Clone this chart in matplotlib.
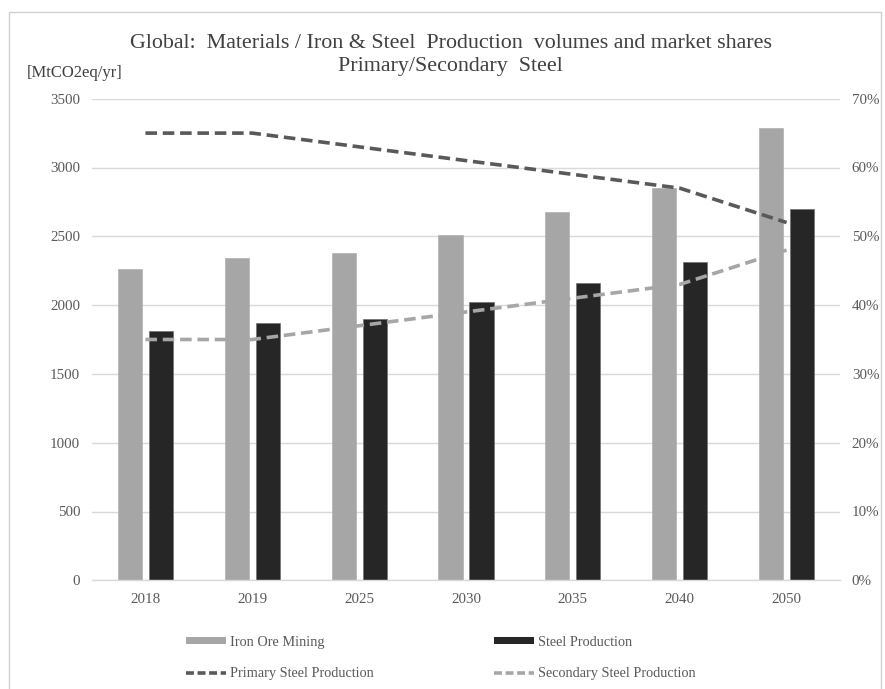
import matplotlib
matplotlib.use('Agg')
import matplotlib.pyplot as plt
import numpy as np
from matplotlib.lines import Line2D
from matplotlib.patches import Patch, Rectangle
from matplotlib.ticker import FuncFormatter

plt.rcParams['font.family'] = ['Liberation Serif', 'DejaVu Serif']

years = ['2018', '2019', '2025', '2030', '2035', '2040', '2050']
iron_ore = [2260, 2340, 2380, 2510, 2680, 2850, 3290]
steel = [1810, 1870, 1900, 2020, 2160, 2310, 2700]
primary_share = [0.65, 0.65, 0.63, 0.61, 0.59, 0.57, 0.52]
secondary_share = [0.35, 0.35, 0.37, 0.39, 0.41, 0.43, 0.48]

c_ore = '#a6a6a6'
c_steel = '#262626'
c_prim = '#595959'
c_sec = '#a6a6a6'
c_grid = '#d9d9d9'
c_text = '#595959'

fig = plt.figure(figsize=(8.85, 6.89), dpi=100)
# outer chart frame
fig.patches.append(Rectangle((9 / 885, -0.01), 872 / 885, 1 - 12 / 689 + 0.01,
                             transform=fig.transFigure, fill=False,
                             edgecolor='#d0d0d0', linewidth=1))

ax = fig.add_axes([92 / 885, 1 - 580.3 / 689, (840 - 92) / 885, (580.3 - 98.7) / 689])
x = np.arange(len(years))
w = 0.225
off = 0.145
ax.bar(x - off, iron_ore, w, color=c_ore, edgecolor='#b0b0b0', linewidth=0.5, zorder=2)
ax.bar(x + off, steel, w, color=c_steel, edgecolor='#707070', linewidth=0.5, zorder=2)
ax.set_xlim(-0.5, len(years) - 0.5)
ax.set_ylim(0, 3500)
ax.set_yticks(np.arange(0, 3501, 500))
ax.set_xticks(x)
ax.set_xticklabels(years)
ax.yaxis.grid(True, color=c_grid, linewidth=1, zorder=0)
ax.set_axisbelow(True)
for s in ['top', 'right', 'left']:
    ax.spines[s].set_visible(False)
ax.spines['bottom'].set_color(c_grid)
ax.spines['bottom'].set_linewidth(1)
ax.tick_params(axis='both', length=0, labelsize=10.8, labelcolor=c_text)
ax.tick_params(axis='y', pad=8.5)
ax.tick_params(axis='x', pad=9)

ax2 = ax.twinx()
ax2.plot(x, primary_share, color=c_prim, linewidth=2.6, dashes=(3.2, 1.6), zorder=3)
ax2.plot(x, secondary_share, color=c_sec, linewidth=2.6, dashes=(3.2, 1.6), zorder=3)
ax2.set_ylim(0, 0.7)
ax2.set_yticks(np.arange(0, 0.71, 0.1))
ax2.yaxis.set_major_formatter(FuncFormatter(lambda v, p: '%d%%' % round(v * 100)))
for s in ax2.spines.values():
    s.set_visible(False)
ax2.tick_params(axis='y', length=0, labelsize=10.8, labelcolor=c_text, pad=8.5)

fig.text(451 / 885, 1 - 44 / 689,
         'Global:  Materials / Iron & Steel  Production  volumes and market shares',
         ha='center', va='center', fontsize=15.8, color='#404040')
fig.text(450 / 885, 1 - 67 / 689, 'Primary/Secondary  Steel',
         ha='center', va='center', fontsize=15.8, color='#404040')
fig.text(27 / 885, 1 - 73 / 689, '[MtCO2eq/yr]', ha='left', va='center',
         fontsize=12, color='#404040')

handles = [Patch(facecolor=c_ore, edgecolor='none'),
           Line2D([], [], color=c_prim, linewidth=2.6, dashes=(2.2, 1)),
           Patch(facecolor=c_steel, edgecolor='none'),
           Line2D([], [], color=c_sec, linewidth=2.6, dashes=(2.2, 1))]
labels = ['Iron Ore Mining', 'Primary Steel Production',
          'Steel Production', 'Secondary Steel Production']
leg = fig.legend(handles, labels, ncol=2, frameon=False, fontsize=10.3,
                 loc='center left', bbox_to_anchor=(173 / 885, 1 - 658 / 689),
                 handlelength=2.8, handleheight=0.3, handletextpad=0.3,
                 columnspacing=8.4, labelspacing=1.3)
for t in leg.get_texts():
    t.set_color(c_text)

fig.savefig('out.png', dpi=100)
